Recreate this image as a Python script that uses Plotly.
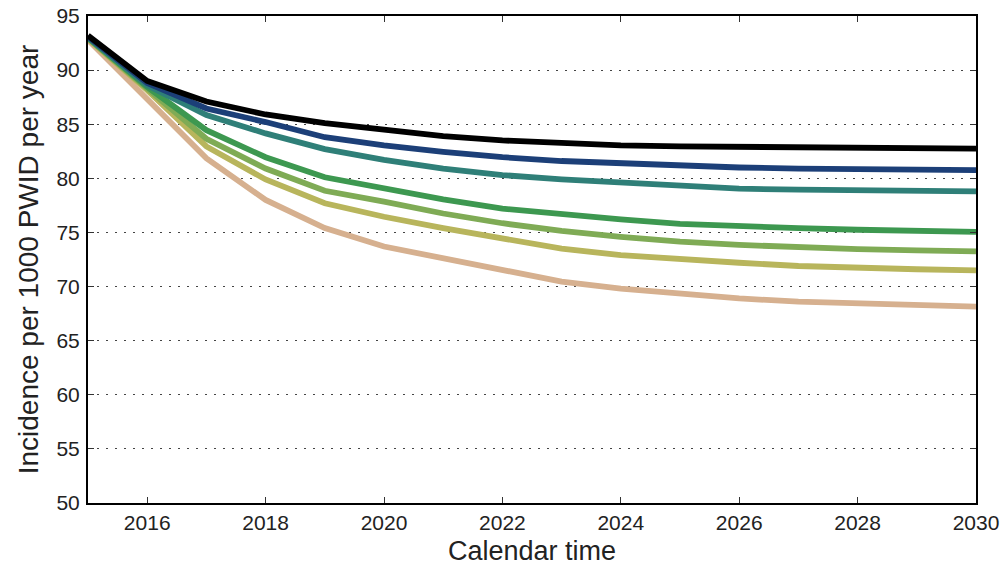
import plotly.graph_objects as go

years = list(range(2015, 2031))
series_black = [93.2, 89.0, 87.1, 85.9, 85.1, 84.45, 83.9, 83.5, 83.25, 83.05, 82.95, 82.9, 82.85, 82.8, 82.78, 82.75]
series_blue = [93.1, 88.8, 86.45, 85.2, 83.8, 83.05, 82.45, 81.95, 81.6, 81.4, 81.15, 81.0, 80.9, 80.85, 80.8, 80.75]
series_teal = [93.0, 88.6, 85.85, 84.15, 82.7, 81.7, 80.9, 80.3, 79.9, 79.6, 79.25, 79.05, 78.95, 78.9, 78.85, 78.8]
series_green = [93.0, 88.45, 84.45, 81.95, 80.1, 79.05, 78.05, 77.2, 76.65, 76.2, 75.8, 75.55, 75.4, 75.25, 75.15, 75.05]
series_lightgreen = [92.95, 88.3, 83.65, 80.9, 78.85, 77.85, 76.75, 75.85, 75.15, 74.6, 74.15, 73.85, 73.6, 73.45, 73.35, 73.25]
series_yellow = [92.9, 88.15, 82.95, 79.9, 77.7, 76.45, 75.4, 74.4, 73.5, 72.9, 72.5, 72.2, 71.9, 71.7, 71.6, 71.5]
series_tan = [92.8, 87.4, 81.85, 78.0, 75.4, 73.7, 72.6, 71.5, 70.45, 69.8, 69.3, 68.9, 68.6, 68.45, 68.3, 68.15]

colors = ["#000000", "#1c3f78", "#2f7f78", "#3d9850", "#7fab55", "#b8b55c", "#d6b08f"]
all_series = [series_black, series_blue, series_teal, series_green, series_lightgreen, series_yellow, series_tan]

x_ticks = list(range(2016, 2031, 2))
y_ticks = list(range(50, 96, 5))

fig = go.Figure()
for s, c in reversed(list(zip(all_series, colors))):
    fig.add_trace(go.Scatter(x=years, y=s, mode="lines", line=dict(color=c, width=5.8),
                             showlegend=False, hoverinfo="skip"))

font = "Liberation Sans, Arial, sans-serif"
txt = "#222222"
fig.update_layout(
    width=1005, height=569,
    margin=dict(l=88, r=29, t=16, b=66, autoexpand=False),
    paper_bgcolor="white", plot_bgcolor="white",
    font=dict(family=font, color=txt),
)
fig.update_xaxes(
    range=[2015, 2030], tickvals=x_ticks, ticktext=[str(v) for v in x_ticks],
    ticks="inside", ticklen=6, tickwidth=1, tickcolor="#333333",
    showline=True, linecolor="black", linewidth=2, mirror="allticks",
    showgrid=False, zeroline=False, automargin=False, ticklabeloverflow="allow",
    tickfont=dict(size=21, family=font, color=txt), ticklabelstandoff=0,
    title=dict(text="Calendar time", font=dict(size=27, family=font, color=txt), standoff=8),
)
fig.update_yaxes(
    range=[50, 95], tickvals=y_ticks, ticktext=[str(v) for v in y_ticks],
    ticks="inside", ticklen=6, tickwidth=1, tickcolor="#333333",
    showline=True, linecolor="black", linewidth=2, mirror="allticks",
    showgrid=True, gridcolor="#444444", griddash="2px,7px", gridwidth=1.2,
    zeroline=False, automargin=False, ticklabeloverflow="allow",
    tickfont=dict(size=21, family=font, color=txt), ticklabelstandoff=2,
    title=dict(text="Incidence per 1000 PWID per year", font=dict(size=28, family=font, color=txt), standoff=10),
)

fig.write_html(
    "out.html",
    config={"displayModeBar": False},
    post_script="document.body.style.margin='0';document.body.style.padding='0';",
)
